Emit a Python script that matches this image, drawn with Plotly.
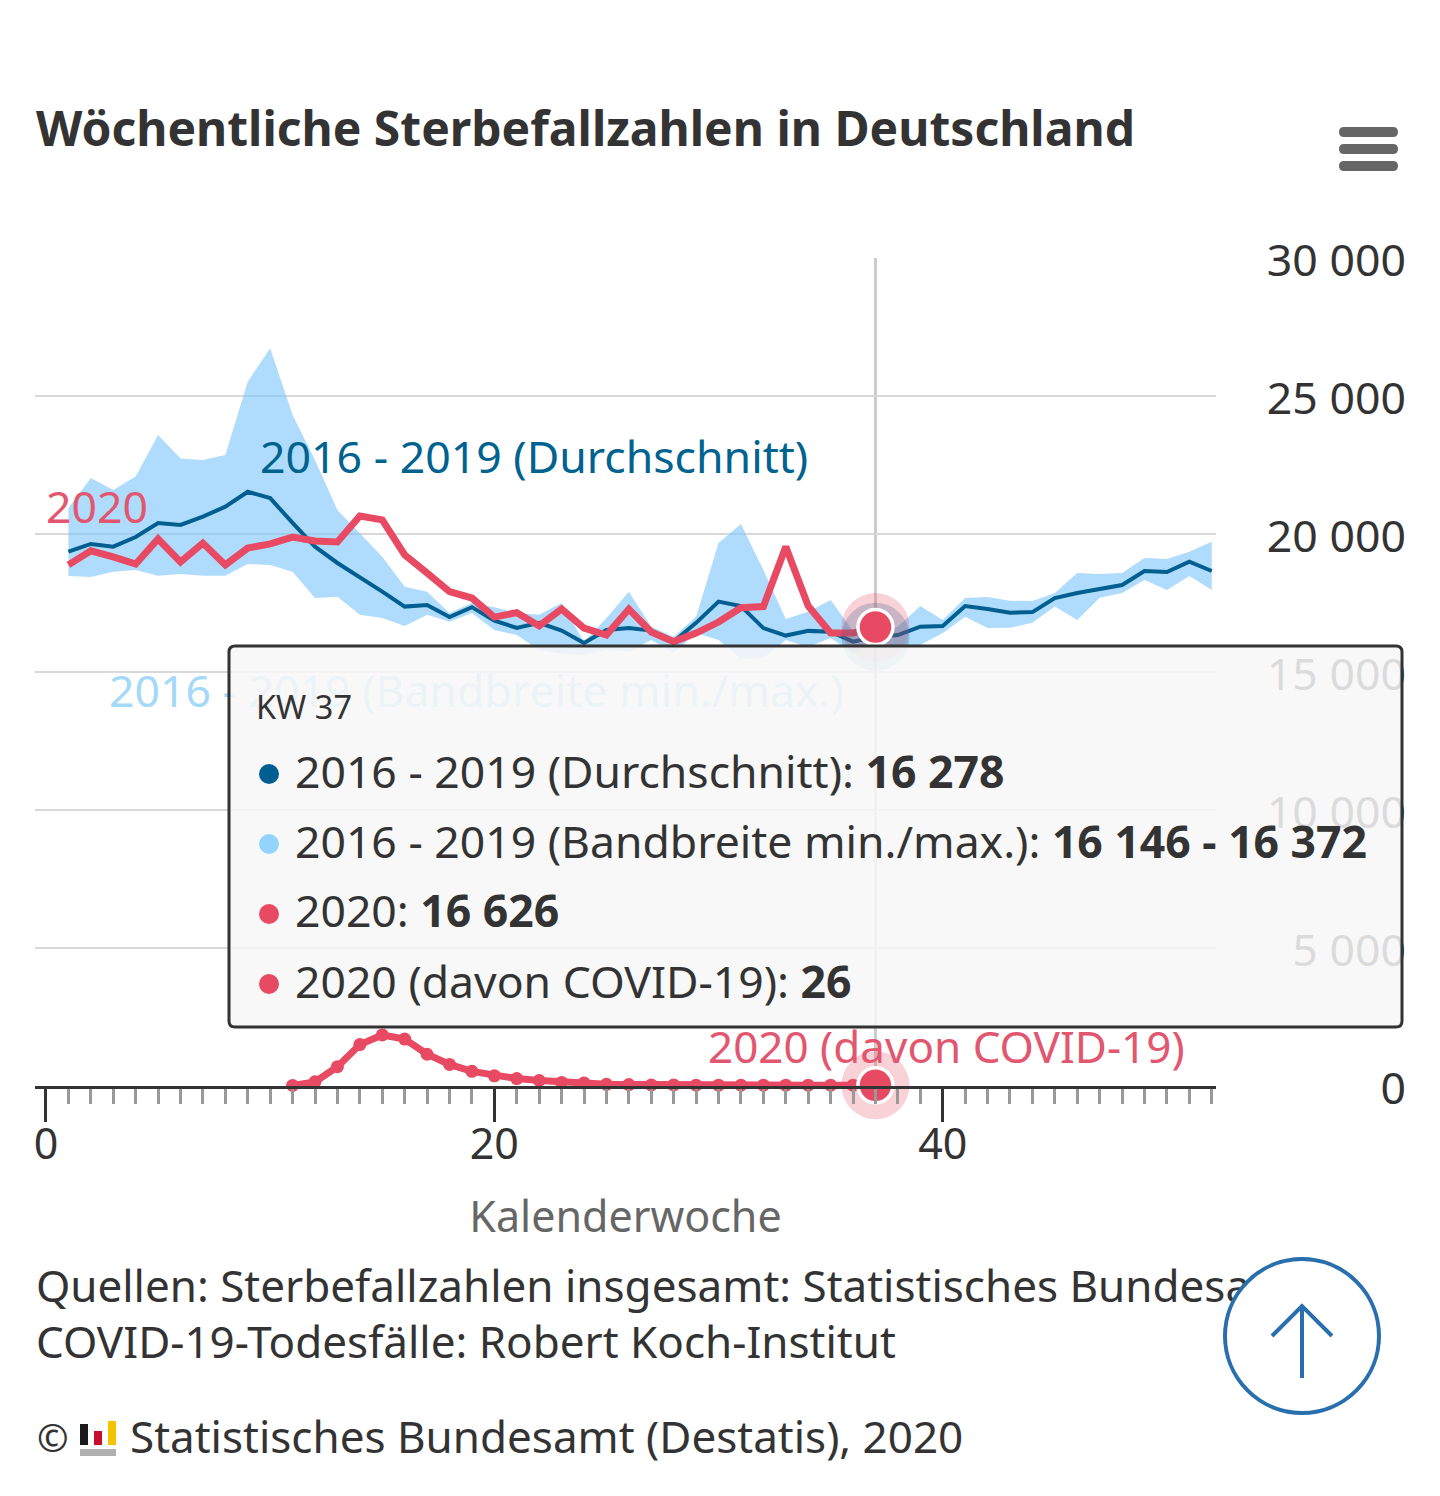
import plotly.graph_objects as go

W, H = 1440, 1496
PL, PR, PT, PB = 35, 1406, 258, 1496
AX_B = 1086
AX_R = 1216

weeks = list(range(1, 53))
mean_1619 = [19360,19640,19540,19890,20400,20330,20630,20990,21530,21300,20400,19540,18950,18450,17910,17370,17430,16990,17350,16860,16600,16780,16500,16050,16520,16590,16500,16100,16780,17550,17390,16590,16320,16490,16460,16100,16278,16340,16640,16670,17390,17280,17150,17170,17680,17860,18010,18150,18660,18620,19000,18660]
upper_1619 = [20940,22030,21590,22080,23590,22740,22680,22860,25520,26730,24310,22680,20870,20040,19180,18090,17910,17140,17500,17350,17140,17070,17500,16090,16960,17910,16640,16280,17000,19670,20360,18700,16920,17180,17610,16490,16372,16640,17390,16880,17680,17720,17580,17570,17860,18590,18550,18590,19130,19090,19360,19720]
lower_1619 = [18480,18440,18630,18700,18490,18550,18490,18490,18910,18880,18630,17680,17730,17070,16960,16670,17070,16820,17140,16520,16340,15800,15650,15620,15800,15740,16160,15690,16410,16160,15470,15510,16160,15910,16230,15690,16146,15910,15980,16410,17000,16590,16600,16780,17370,16880,17690,17860,18330,17970,18480,17970]
weeks_2020 = list(range(1, 38))
total_2020 = [18880,19390,19170,18910,19820,18990,19670,18880,19490,19640,19890,19750,19710,20650,20510,19240,18590,17910,17680,16990,17150,16670,17280,16590,16340,17280,16450,16100,16410,16810,17330,17370,19540,17390,16410,16410,16626]
weeks_covid = list(range(11, 38))
covid_2020 = [20,150,700,1500,1850,1700,1150,780,530,370,270,200,130,110,60,50,40,40,30,30,30,30,30,30,30,30,26]

x_ticks = [0, 20, 40]
y_ticks = [0, 5000, 10000, 15000, 20000, 25000, 30000]
y_labels = ["0", "5 000", "10 000", "15 000", "20 000", "25 000", "30 000"]
hover_week = 37

FONT = "Noto Sans"
C_RED = "#e94a63"
C_BLUE = "#005f90"
C_LIGHT = "#92d4fb"
C_TEXT = "#333333"

def px(x): return (x - PL) / (PR - PL)
def py(y): return (PB - y) / (PB - PT)
def rrect(x0, y0, x1, y1, r):
    return (f"M {px(x0+r)} {py(y0)} L {px(x1-r)} {py(y0)} Q {px(x1)} {py(y0)} {px(x1)} {py(y0+r)} "
            f"L {px(x1)} {py(y1-r)} Q {px(x1)} {py(y1)} {px(x1-r)} {py(y1)} "
            f"L {px(x0+r)} {py(y1)} Q {px(x0)} {py(y1)} {px(x0)} {py(y1-r)} "
            f"L {px(x0)} {py(y0+r)} Q {px(x0)} {py(y0)} {px(x0+r)} {py(y0)} Z")

fig = go.Figure()
fig.add_trace(go.Scatter(x=weeks, y=upper_1619, mode="lines", line=dict(width=0), showlegend=False, cliponaxis=False))
fig.add_trace(go.Scatter(x=weeks, y=lower_1619, mode="lines", line=dict(width=0), fill="tonexty",
                         fillcolor="rgba(128,200,250,0.63)", showlegend=False, cliponaxis=False))
fig.add_trace(go.Scatter(x=weeks, y=mean_1619, mode="lines", line=dict(color=C_BLUE, width=4), showlegend=False, cliponaxis=False))
fig.add_trace(go.Scatter(x=weeks_covid, y=covid_2020, mode="lines+markers", line=dict(color=C_RED, width=7),
                         marker=dict(color=C_RED, size=13), showlegend=False, cliponaxis=False))
fig.add_trace(go.Scatter(x=weeks_2020, y=total_2020, mode="lines", line=dict(color=C_RED, width=7), showlegend=False, cliponaxis=False))

# hover halos and markers at the highlighted week
idx = hover_week - 1
fig.add_trace(go.Scatter(x=[hover_week], y=[mean_1619[idx]], mode="markers",
                         marker=dict(size=68, color="rgba(0,95,144,0.25)"), showlegend=False, cliponaxis=False))
fig.add_trace(go.Scatter(x=[hover_week, hover_week], y=[total_2020[idx], covid_2020[-1]], mode="markers",
                         marker=dict(size=68, color="rgba(233,74,99,0.25)"), showlegend=False, cliponaxis=False))
fig.add_trace(go.Scatter(x=[hover_week, hover_week], y=[total_2020[idx], covid_2020[-1]], mode="markers",
                         marker=dict(size=35, color=C_RED, line=dict(color="white", width=3.5)), showlegend=False, cliponaxis=False))

# series labels and the source line sit below the tooltip and the round button
def label(x, y, text, color, size, yaxis="y"):
    fig.add_trace(go.Scatter(x=[x], y=[y], yaxis=yaxis, mode="text", text=[text], textposition="middle right",
                             textfont=dict(family=FONT, size=size, color=color), showlegend=False, cliponaxis=False))
LABEL_SIZE = 44.6
label(0, 20800, "2020", "#e2566f", LABEL_SIZE)
label(9.55, 22610, "2016 - 2019 (Durchschnitt)", "#00628f", LABEL_SIZE)
label(2.81, 14130, "2016 - 2019 (Bandbreite min./max.)", "#a5d9f9", LABEL_SIZE)
label(29.53, 1230, "2020 (davon COVID-19)", "#e2566f", 44)
# lower strip under the axis: a hidden axis that spans the page below the chart
label(-0.45, (PB - 1291) / (PB - AX_B), "Quellen: Sterbefallzahlen insgesamt: Statistisches Bundesamt;", C_TEXT, 44, yaxis="y2")

shapes = [
    dict(type="line", xref="x", yref="y", x0=hover_week, x1=hover_week, y0=0, y1=30000,
         line=dict(color="#cccccc", width=3), layer="below"),
    dict(type="path", xref="paper", yref="paper", path=rrect(229, 646, 1402, 1027, 6),
         fillcolor="rgba(247,247,247,0.86)", line=dict(color=C_TEXT, width=3), layer="above"),
]
for y0 in (127, 144, 161):
    shapes.append(dict(type="path", xref="paper", yref="paper", path=rrect(1339, y0, 1398, y0 + 10, 5),
                       fillcolor="#666666", line=dict(width=0), layer="above"))
for yc, col in ((774, C_BLUE), (844, C_LIGHT), (914, C_RED), (984, C_RED)):
    shapes.append(dict(type="circle", xref="paper", yref="paper", x0=px(259), x1=px(279), y0=py(yc + 10), y1=py(yc - 10),
                       fillcolor=col, line=dict(width=0), layer="above"))
# scroll-to-top button
shapes.append(dict(type="circle", xref="paper", yref="paper", x0=px(1225), x1=px(1379), y0=py(1413), y1=py(1259),
                   fillcolor="white", line=dict(color="#2a6fad", width=4), layer="above"))
shapes.append(dict(type="path", xref="paper", yref="paper",
                   path=f"M {px(1272)} {py(1336)} L {px(1302)} {py(1306)} L {px(1332)} {py(1336)}",
                   line=dict(color="#2a6fad", width=4), layer="above"))
shapes.append(dict(type="line", xref="paper", yref="paper", x0=px(1302), x1=px(1302), y0=py(1306), y1=py(1378),
                   line=dict(color="#2a6fad", width=4), layer="above"))
# logo
for x0, x1, y0, y1, col in ((80, 88, 1424, 1445, "#1a1a1a"), (94, 102, 1431, 1445, "#c8102e"),
                            (108, 116, 1421, 1445, "#f5c400"), (80, 116, 1449, 1456, "#b0b0b0")):
    shapes.append(dict(type="rect", xref="paper", yref="paper", x0=px(x0), x1=px(x1), y0=py(y1), y1=py(y0),
                       fillcolor=col, line=dict(width=0), layer="above"))

def note(x, y, text, size, color=C_TEXT):
    return dict(xref="paper", yref="paper", x=px(x), y=py(y), text=text, showarrow=False, xanchor="left", yanchor="middle",
                align="left", font=dict(family=FONT, size=size, color=color), borderpad=0)

annotations = [
    note(35, 127, "<b>Wöchentliche Sterbefallzahlen in Deutschland</b>", 48),
    note(255, 706, "KW 37", 32.5),
    note(294, 770, "2016 - 2019 (Durchschnitt): <b>16 278</b>", 44.5),
    note(294, 840, "2016 - 2019 (Bandbreite min./max.): <b>16 146 - 16 372</b>", 44.5),
    note(294, 910, "2020: <b>16 626</b>", 44.5),
    note(294, 980, "2020 (davon COVID-19): <b>26</b>", 44.5),
    note(35, 1341, "COVID-19-Todesfälle: Robert Koch-Institut", 44),
    note(36, 1437, "©", 38),
    note(129, 1436, "Statistisches Bundesamt (Destatis), 2020", 44),
]

fig.update_layout(
    width=W, height=H, autosize=False, paper_bgcolor="white", plot_bgcolor="white", showlegend=False,
    margin=dict(l=PL, r=W - PR, t=PT, b=H - PB, pad=0, autoexpand=False), hovermode=False,
    font=dict(family=FONT, color=C_TEXT),
    xaxis=dict(domain=[0, (AX_R - PL) / (PR - PL)], range=[-0.49, 52.19], tickmode="array", tickvals=x_ticks,
               ticks="outside", ticklen=33, tickwidth=3, tickcolor=C_TEXT, showline=True, linecolor=C_TEXT, linewidth=3,
               showgrid=False, zeroline=False, tickfont=dict(size=43, color=C_TEXT), ticklabelstandoff=-15,
               minor=dict(dtick=1, tick0=0, ticks="outside", ticklen=15, tickwidth=3, tickcolor="#999999", showgrid=False),
               title=dict(text="Kalenderwoche", font=dict(size=43, color="#666666"), standoff=32)),
    yaxis=dict(domain=[(PB - AX_B) / (PB - PT), 1], range=[0, 30000], side="left", anchor="free", position=1,
               tickmode="array", tickvals=y_ticks, ticktext=y_labels, ticklabelshift=2,
               ticks="", showline=False, showgrid=True, gridcolor="#d8d8d8", gridwidth=1.5, zeroline=False,
               tickfont=dict(size=44.6, color=C_TEXT)),
    yaxis2=dict(domain=[0, (PB - AX_B) / (PB - PT)], range=[0, 1], visible=False, anchor="x"),
    shapes=shapes, annotations=annotations,
)
fig.write_html("out.html", config=dict(displayModeBar=False, responsive=False),
               post_script="document.body.style.margin='0';")
